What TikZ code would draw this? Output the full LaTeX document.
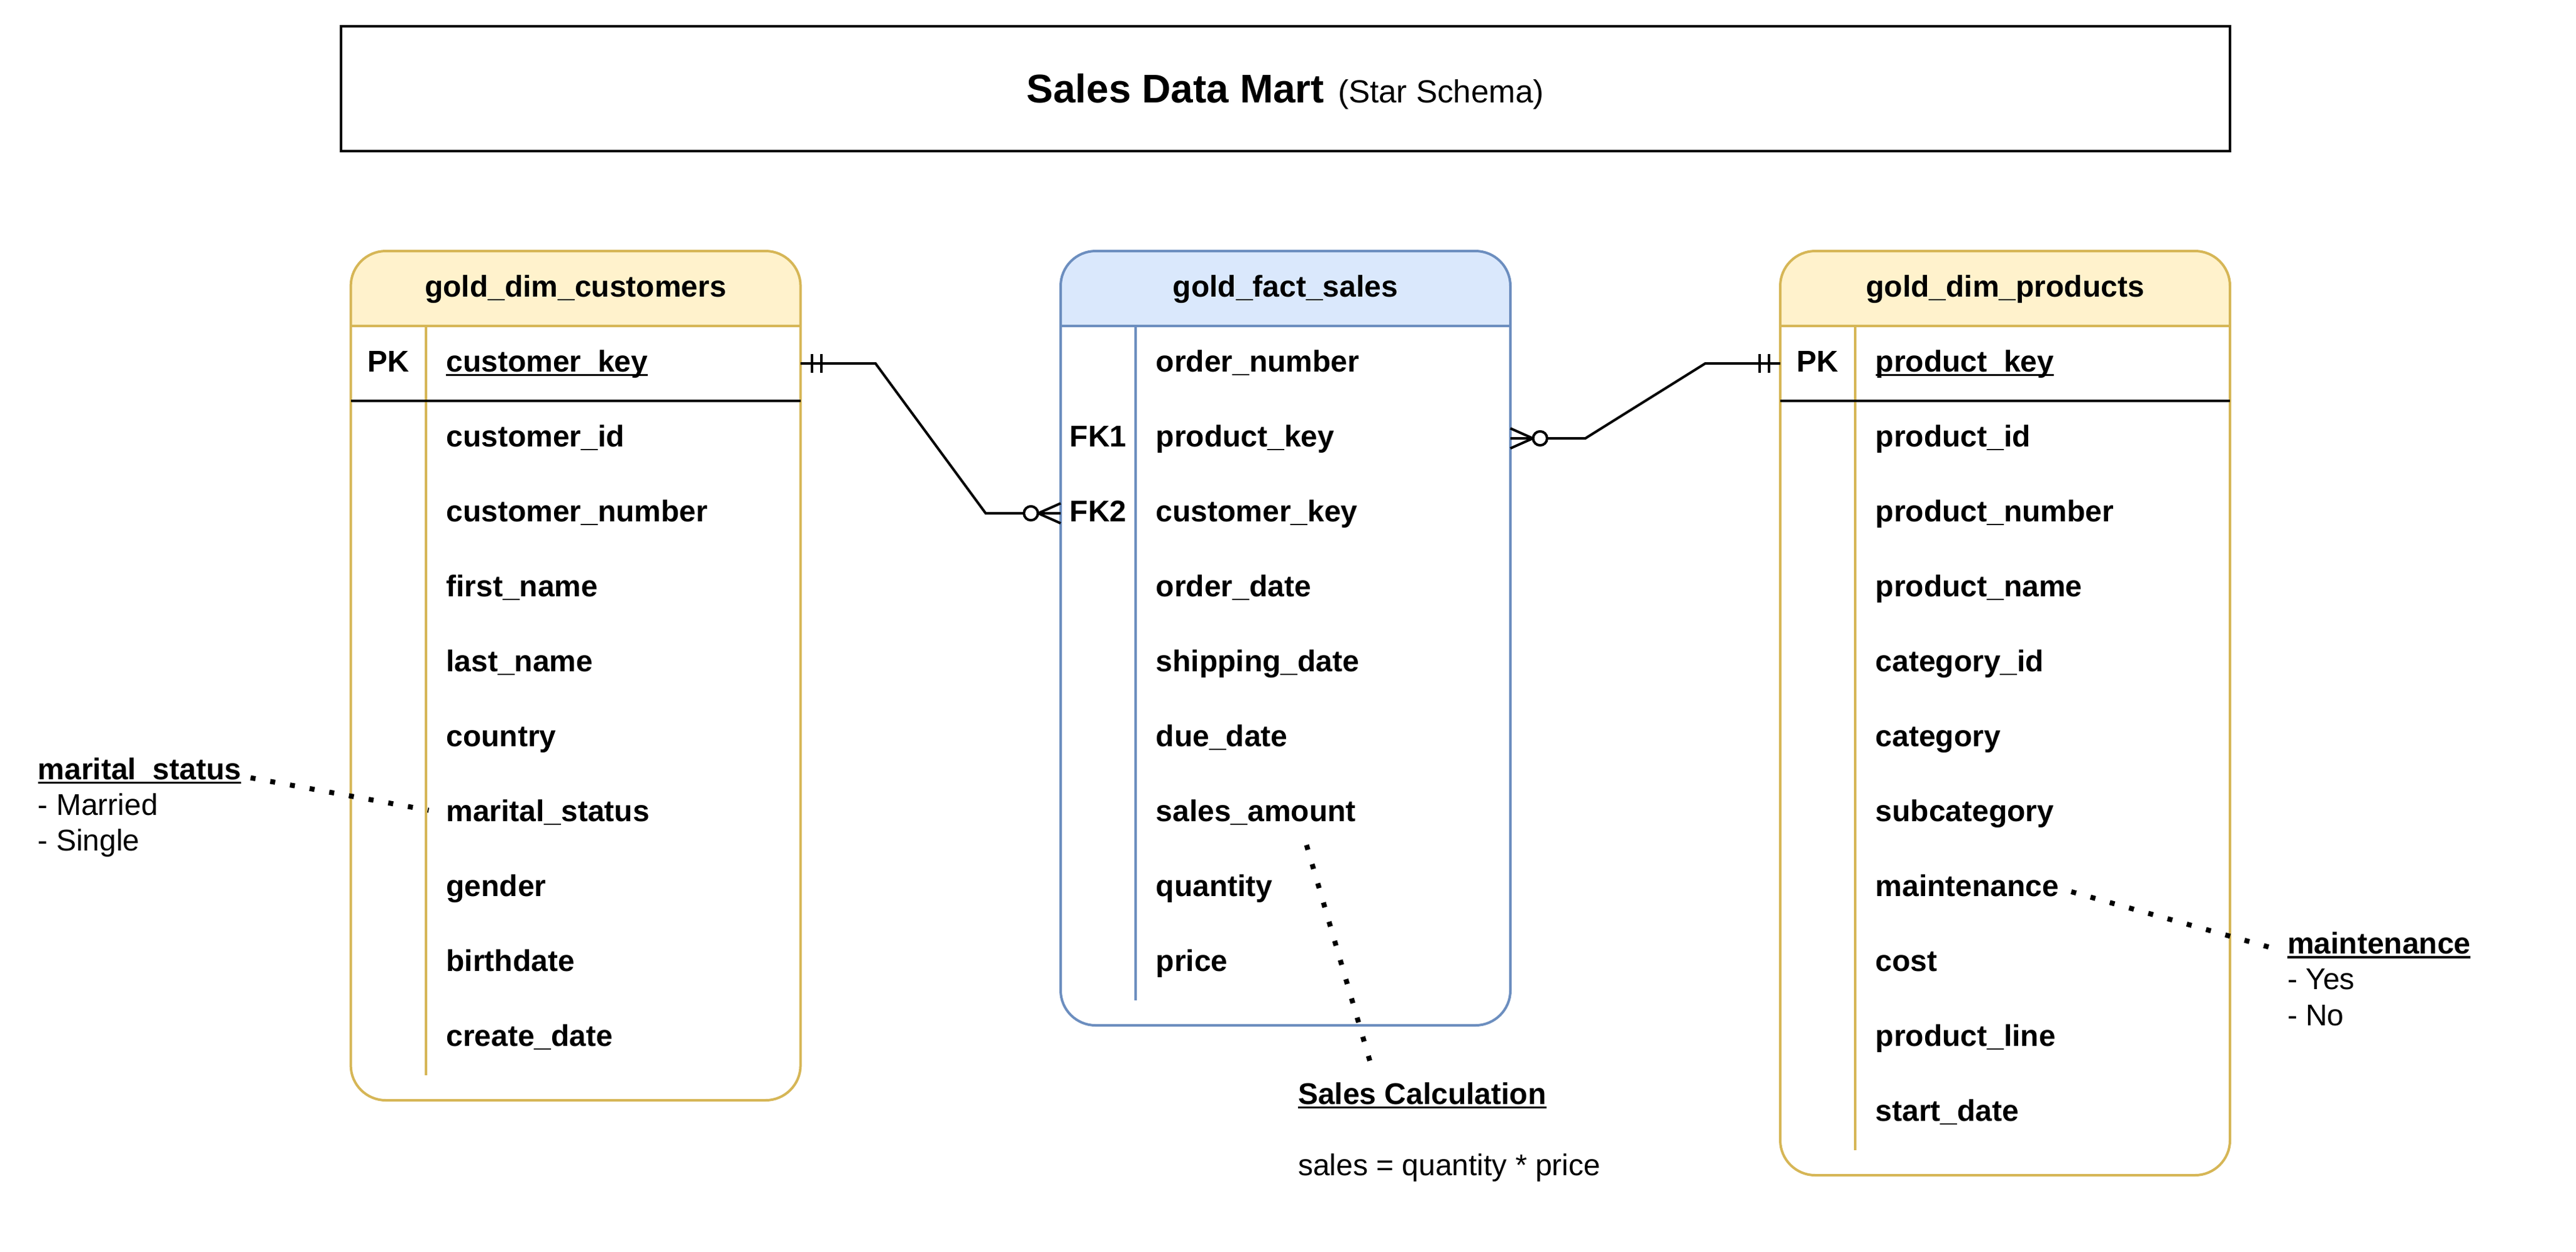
\documentclass[tikz,border=0pt]{standalone}
\usepackage{fontspec}
\setmainfont{Liberation Sans}
\usetikzlibrary{calc}
\definecolor{yfill}{HTML}{FFF2CC}
\definecolor{ystroke}{HTML}{D6B656}
\definecolor{bfill}{HTML}{DAE8FC}
\definecolor{bstroke}{HTML}{6C8EBF}
\newcommand\ulx[1]{\setbox0\hbox{#1}\rlap{\vrule height -0.95pt depth 1.85pt width \wd0}\box0}
% #1 left, #2 right, #3 table bottom, #4 inner line bottom, #5 header fill, #6 stroke
\newcommand\mktable[6]{%
  \fill[white, rounded corners=14pt] (#1,100.5) rectangle (#2,#3);
  \begin{scope}
    \clip[rounded corners=14pt] (#1,100.5) rectangle (#2,#3);
    \fill[#5] (#1,100.5) rectangle (#2,130.5);
  \end{scope}
  \draw[#6, line width=1pt] (#1,130.5) -- (#2,130.5);
  \draw[#6, line width=1pt] ({#1+30},130.5) -- ({#1+30},#4);
  \draw[#6, line width=1pt, rounded corners=14pt] (#1,100.5) rectangle (#2,#3);
}
\tikzset{
  rowtxt/.style={anchor=base west, inner sep=0pt, font=\bfseries\fontsize{12}{14.4}\selectfont},
  keytxt/.style={anchor=base, inner sep=0pt, font=\bfseries\fontsize{12}{14.4}\selectfont},
  hdrtxt/.style={anchor=base, inner sep=0pt, font=\bfseries\fontsize{12}{14.4}\selectfont},
  notehead/.style={anchor=base west, inner sep=0pt, font=\bfseries\fontsize{12}{14.4}\selectfont},
  notetxt/.style={anchor=base west, inner sep=0pt, font=\fontsize{12}{14.4}\selectfont},
  erline/.style={line width=1pt, black},
  dotline/.style={line width=2pt, black, dash pattern=on 2pt off 6pt},
}
\begin{document}
\begin{tikzpicture}[x=1pt,y=-1pt]
\useasboundingbox (0,0) rectangle (1031,501);
\fill[white] (0,0) rectangle (1031,501);

% title
\draw[line width=1pt] (136.4,10.4) rectangle (892.5,60.4);
\node[anchor=base west, inner sep=0pt, font=\fontsize{12.8}{15}\selectfont] (title) at (410.7,41.2)
  {{\bfseries\fontsize{16}{19.2}\selectfont Sales Data Mart\kern1pt\ }(Star Schema)};

% tables
\mktable{140.4}{320.4}{440.5}{430.5}{yfill}{ystroke}
\mktable{424.5}{604.5}{410.5}{400.5}{bfill}{bstroke}
\mktable{712.5}{892.5}{470.5}{460.5}{yfill}{ystroke}
\draw[line width=1pt, black] (140.4,160.5) -- (320.4,160.5);
\draw[line width=1pt, black] (712.5,160.5) -- (892.5,160.5);

% customers
\node[hdrtxt] (custH) at (230.4,118.75) {gold\_dim\_customers};
\node[keytxt] (custPKl) at (155.4,148.75) {PK};
\node[rowtxt] (custKey) at (178.4,148.75) {\ulx{customer\_key}};
\foreach \t [count=\i from 0] in {customer\_id,customer\_number,first\_name,last\_name,country,marital\_status,gender,birthdate,create\_date}
  \node[rowtxt] (cust\i) at (178.4,{178.75+30*\i}) {\t};

% fact
\node[hdrtxt] (factH) at (514.5,118.75) {gold\_fact\_sales};
\node[keytxt] (fk1) at (439.5,178.75) {FK1};
\node[keytxt] (fk2) at (439.5,208.75) {FK2};
\foreach \t [count=\i from 0] in {order\_number,product\_key,customer\_key,order\_date,shipping\_date,due\_date,sales\_amount,quantity,price}
  \node[rowtxt] (fact\i) at (462.5,{148.75+30*\i}) {\t};

% products
\node[hdrtxt] (prodH) at (802.5,118.75) {gold\_dim\_products};
\node[keytxt] (prodPKl) at (727.5,148.75) {PK};
\node[rowtxt] (prodKey) at (750.5,148.75) {\ulx{product\_key}};
\foreach \t [count=\i from 0] in {product\_id,product\_number,product\_name,category\_id,category,subcategory,maintenance,cost,product\_line,start\_date}
  \node[rowtxt] (prod\i) at (750.5,{178.75+30*\i}) {\t};

% relationship connectors
\coordinate (custPK) at (320.4,145.5);
\coordinate (factFK2) at (424.5,205.5);
\coordinate (prodPK) at (712.5,145.5);
\coordinate (factFK1) at (604.5,175.5);

\draw[erline] (custPK) -- ++(30,0) -- ($(factFK2)+(-30,0)$) -- (factFK2);
\draw[erline] ($(custPK)+(4.5,-3.75)$) -- ++(0,7.5);
\draw[erline] ($(custPK)+(8.25,-3.75)$) -- ++(0,7.5);
\draw[erline] ($(factFK2)+(0,-4)$) -- ($(factFK2)+(-9,0)$) -- ($(factFK2)+(0,4)$);
\draw[erline, fill=white] ($(factFK2)+(-11.9,0)$) circle[radius=2.8];

\draw[erline] (prodPK) -- ++(-30,0) -- ($(factFK1)+(30,0)$) -- (factFK1);
\draw[erline] ($(prodPK)+(-4.5,-3.75)$) -- ++(0,7.5);
\draw[erline] ($(prodPK)+(-8.25,-3.75)$) -- ++(0,7.5);
\draw[erline] ($(factFK1)+(0,-4)$) -- ($(factFK1)+(9,0)$) -- ($(factFK1)+(0,4)$);
\draw[erline, fill=white] ($(factFK1)+(11.9,0)$) circle[radius=2.8];

% notes
\node[notehead] (msNote) at (15,312) {\ulx{marital\_status}};
\node[notetxt] (ms1) at (15,326.3) {- Married};
\node[notetxt] (ms2) at (15,340.6) {- Single};

\node[notehead] (salesNote) at (519.3,442) {\ulx{Sales Calculation}};
\node[notetxt] (salesF) at (519.3,470.6) {sales = quantity * price};

\node[notehead] (mtNote) at (915.3,381.8) {\ulx{maintenance}};
\node[notetxt] (mt1) at (915.3,396.2) {- Yes};
\node[notetxt] (mt2) at (915.3,410.5) {- No};

% dotted note links
\coordinate (msA) at (100.3,311.4);
\coordinate (msB) at (171.6,324.4);
\draw[dotline] (msA) -- (msB);
\coordinate (saA) at (522.9,338.3);
\coordinate (saB) at (548.4,425.2);
\draw[dotline] (saA) -- (saB);
\coordinate (mtA) at (829,357);
\coordinate (mtB) at (908.2,379.2);
\draw[dotline] (mtA) -- (mtB);
\end{tikzpicture}
\end{document}
